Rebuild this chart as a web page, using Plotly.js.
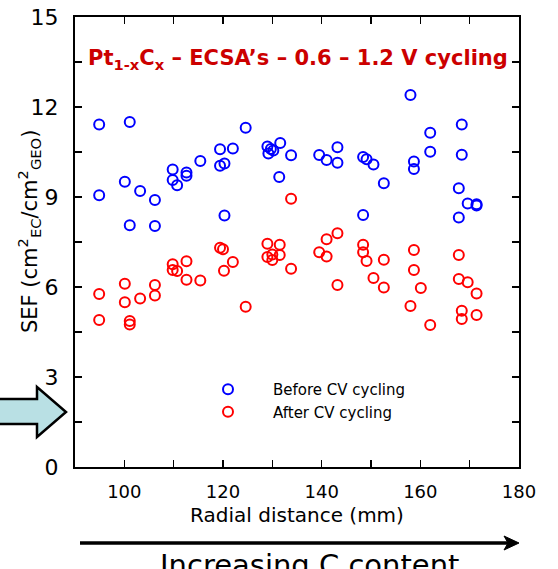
<!DOCTYPE html>
<html>
<head>
<meta charset="utf-8">
<script src="https://cdn.plot.ly/plotly-3.0.1.min.js"></script>
<style>html,body{margin:0;padding:0;background:#fff;}#chart{width:558px;height:569px;}</style>
</head>
<body>
<div id="chart"></div>
<script>
// Before CV cycling (blue)
var beforeX = [94.9, 101.1, 119.4, 122.0, 115.4, 119.4, 120.3, 109.8, 112.6, 112.6, 109.8, 110.7, 100.1, 103.2, 94.9, 106.2, 120.3, 101.1, 106.2,
  124.6, 129.0, 129.7, 130.2, 129.2, 131.6, 133.8, 139.5, 141.0, 143.2, 143.2, 148.4, 149.1, 150.5, 131.4, 148.4,
  158.0, 168.4, 162.0, 162.0, 168.4, 158.7, 158.7, 152.6, 167.8, 169.6, 171.4, 171.4, 167.8];
var beforeY = [11.42, 11.5, 10.59, 10.62, 10.2, 10.04, 10.12, 9.92, 9.82, 9.71, 9.57, 9.39, 9.51, 9.2, 9.06, 8.9, 8.38, 8.06, 8.03,
  11.31, 10.68, 10.6, 10.55, 10.45, 10.8, 10.39, 10.4, 10.23, 10.66, 10.14, 10.33, 10.26, 10.08, 9.67, 8.4,
  12.4, 11.42, 11.14, 10.51, 10.41, 10.18, 9.93, 9.46, 9.29, 8.78, 8.76, 8.72, 8.32];
// After CV cycling (red)
var afterX = [119.4, 120.0, 122.0, 120.2, 109.8, 112.6, 109.8, 110.7, 112.6, 115.4, 100.1, 106.2, 94.9, 106.2, 103.2, 100.1, 94.9, 101.1, 101.1,
  124.6, 129.0, 131.5, 129.0, 130.0, 130.0, 131.5, 133.8, 133.8, 139.5, 141.0, 141.0, 143.2, 143.2, 148.4, 148.4, 149.1, 150.5,
  152.6, 152.6, 158.7, 158.7, 160.1, 158.0, 162.0, 167.8, 167.8, 169.6, 171.4, 168.4, 168.4, 171.4];
var afterY = [7.31, 7.26, 6.83, 6.54, 6.76, 6.86, 6.57, 6.53, 6.24, 6.22, 6.11, 6.07, 5.77, 5.72, 5.62, 5.49, 4.9, 4.87, 4.75,
  5.34, 7.44, 7.41, 7.0, 7.08, 6.9, 7.07, 6.61, 8.94, 7.16, 7.59, 7.02, 7.79, 6.07, 7.41, 7.16, 6.87, 6.3,
  6.91, 5.98, 7.23, 6.57, 5.97, 5.37, 4.73, 7.07, 6.27, 6.16, 5.78, 5.21, 4.93, 5.07];

var xTickVals = [90, 100, 110, 120, 130, 140, 150, 160, 170, 180];
var xTickText = ['', '100', '', '120', '', '140', '', '160', '', '180'];
var yTickVals = [0, 1.5, 3, 4.5, 6, 7.5, 9, 10.5, 12, 13.5, 15];
var yTickText = ['0', '', '3', '', '6', '', '9', '', '12', '', '15'];

var seriesNames = ['Before CV cycling', 'After CV cycling'];

var W = 558, H = 569;
var L = 75, R = 39, T = 17, B = 102;
var pw = W - L - R, ph = H - T - B;
function px(x) { return (x - L) / pw; }
function py(y) { return (H - B - y) / ph; }

var font = 'DejaVu Sans, Verdana, sans-serif';

var traces = [
  { x: beforeX, y: beforeY, type: 'scatter', mode: 'markers', name: seriesNames[0],
    marker: { symbol: 'circle-open', size: 10, color: '#0000ff', line: { width: 2, color: '#0000ff' } } },
  { x: afterX, y: afterY, type: 'scatter', mode: 'markers', name: seriesNames[1],
    marker: { symbol: 'circle-open', size: 10, color: '#ff0000', line: { width: 2, color: '#ff0000' } } }
];

var arrowPath = 'M ' + px(-5) + ' ' + py(399) + ' L ' + px(37) + ' ' + py(399) + ' L ' + px(37) + ' ' + py(387) +
  ' L ' + px(66) + ' ' + py(412) + ' L ' + px(37) + ' ' + py(437) + ' L ' + px(37) + ' ' + py(424) +
  ' L ' + px(-5) + ' ' + py(424) + ' Z';
var headPath = 'M ' + px(519) + ' ' + py(543) + ' L ' + px(504) + ' ' + py(536) + ' L ' + px(508) + ' ' + py(543) +
  ' L ' + px(504) + ' ' + py(550) + ' Z';

var layout = {
  width: W, height: H,
  margin: { l: L, r: R, t: T, b: B },
  paper_bgcolor: '#fff', plot_bgcolor: '#fff',
  font: { family: font, color: '#000' },
  showlegend: true,
  legend: { x: px(183), y: py(373), xanchor: 'left', yanchor: 'top', bgcolor: 'rgba(0,0,0,0)',
    itemwidth: 80, font: { family: font, size: 15, color: '#000' } },
  title: { text: '<b>Pt<sub>1-x</sub>C<sub>x</sub> – ECSA’s – 0.6 – 1.2 V cycling</b>',
    xref: 'container', yref: 'container', x: 88 / W, y: 1 - 58 / H, xanchor: 'left', yanchor: 'middle',
    font: { family: font, size: 21, color: '#cc0000' } },
  xaxis: { range: [90, 180], tickmode: 'array', tickvals: xTickVals, ticktext: xTickText,
    ticks: 'inside', ticklen: 7, tickwidth: 1.5, tickcolor: '#000', ticklabelstandoff: 7,
    showline: true, linecolor: '#000', linewidth: 2, mirror: 'ticks', showgrid: false, zeroline: false,
    tickfont: { family: font, size: 18, color: '#000' },
    title: { text: 'Radial distance (mm)', standoff: 7, font: { family: font, size: 20, color: '#000' } } },
  yaxis: { range: [0, 15], tickmode: 'array', tickvals: yTickVals, ticktext: yTickText,
    ticks: 'inside', ticklen: 7, tickwidth: 1.5, tickcolor: '#000', ticklabelstandoff: 10,
    showline: true, linecolor: '#000', linewidth: 2, mirror: 'ticks', showgrid: false, zeroline: false,
    tickfont: { family: font, size: 22, color: '#000' } },
  shapes: [
    { type: 'path', xref: 'paper', yref: 'paper', path: arrowPath, fillcolor: '#b9e0e4', line: { color: '#000', width: 2.5 }, layer: 'above' },
    { type: 'line', xref: 'paper', yref: 'paper', x0: px(80), x1: px(508), y0: py(543), y1: py(543), line: { color: '#000', width: 3.5 } },
    { type: 'path', xref: 'paper', yref: 'paper', path: headPath, fillcolor: '#000', line: { color: '#000', width: 1 } }
  ],
  annotations: [
    { xref: 'paper', yref: 'paper', x: px(29), y: py(232), xanchor: 'center', yanchor: 'middle', showarrow: false, textangle: -90,
      text: 'SEF (cm<sup>2</sup><sub>EC</sub>/cm<sup>2</sup><sub>GEO</sub>)', font: { family: font, size: 21, color: '#000' } },
    { xref: 'paper', yref: 'paper', x: px(309), y: py(546), xanchor: 'center', yanchor: 'top', showarrow: false,
      text: 'Increasing C content', font: { family: font, size: 29, color: '#000' } }
  ]
};

Plotly.newPlot('chart', traces, layout, { displayModeBar: false, staticPlot: true });
</script>
</body>
</html>
